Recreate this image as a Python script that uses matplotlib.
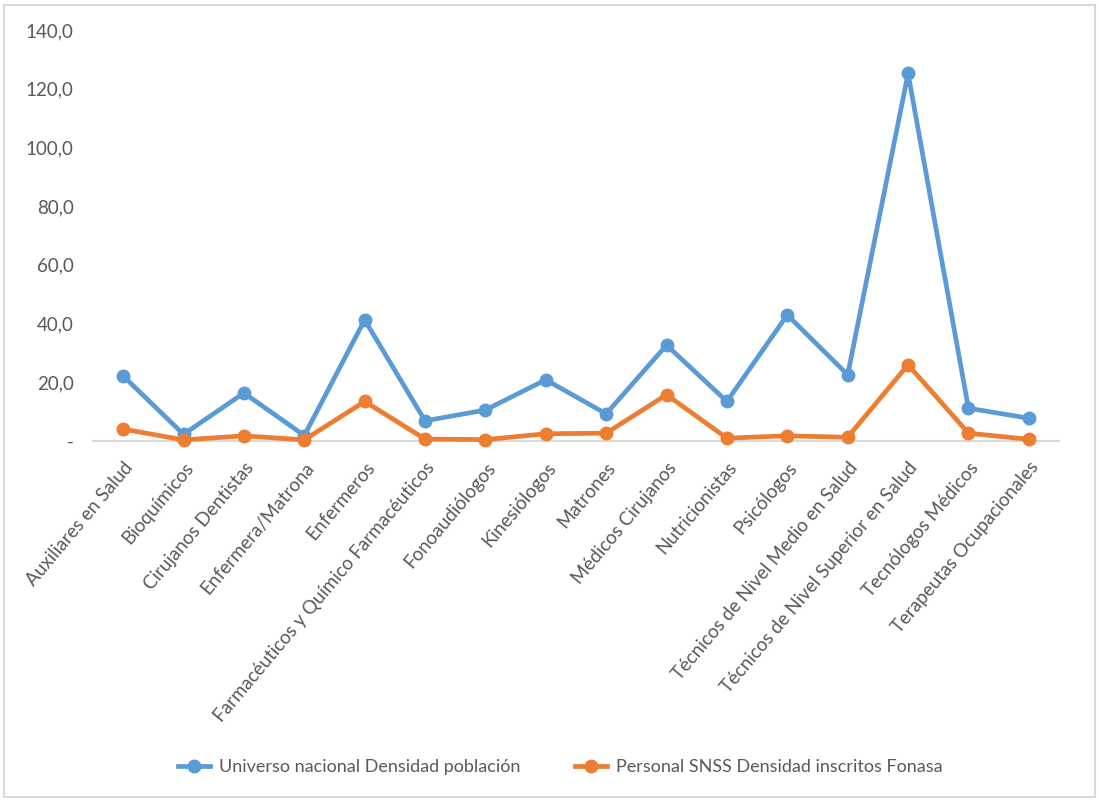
import matplotlib.pyplot as plt
from matplotlib.patches import Rectangle

categories = [
    'Auxiliares en Salud', 'Bioquímicos', 'Cirujanos Dentistas', 'Enfermera/Matrona',
    'Enfermeros', 'Farmacéuticos y Químico Farmacéuticos', 'Fonoaudiólogos',
    'Kinesiólogos', 'Matrones', 'Médicos Cirujanos', 'Nutricionistas', 'Psicólogos',
    'Técnicos de Nivel Medio en Salud', 'Técnicos de Nivel Superior en Salud',
    'Tecnólogos Médicos', 'Terapeutas Ocupacionales',
]
universo = [22.1, 2.2, 16.3, 1.8, 41.2, 6.8, 10.5, 20.8, 9.2, 32.6, 13.4, 42.9,
            22.5, 125.2, 11.1, 7.7]
personal = [4.0, 0.3, 1.7, 0.3, 13.4, 0.6, 0.4, 2.4, 2.6, 15.7, 0.9, 1.7,
            1.2, 25.9, 2.6, 0.5]
yticks = [0, 20, 40, 60, 80, 100, 120, 140]

plt.rcParams['font.family'] = ['Lato', 'DejaVu Sans']
text_color = '#595959'

fig = plt.figure(figsize=(10.99, 8.0), dpi=100)
ax = fig.add_axes([0.0846, 0.449, 0.879, 0.5135])

x = range(len(categories))
ax.plot(x, universo, color='#5B9BD5', lw=3.4, marker='o', ms=9,
        label='Universo nacional Densidad población')
ax.plot(x, personal, color='#ED7D31', lw=3.4, marker='o', ms=9,
        label='Personal SNSS Densidad inscritos Fonasa')

ax.set_xlim(-0.5, len(categories) - 0.5)
ax.set_ylim(0, 140)
ax.set_yticks(yticks)
ax.set_yticklabels(['-' if v == 0 else '{:.1f}'.format(v).replace('.', ',') for v in yticks])
ax.set_xticks(list(x))
ax.set_xticklabels(categories, rotation=50, ha='right', va='top', rotation_mode='anchor')
ax.tick_params(axis='both', length=0, labelsize=13.5, colors=text_color)
ax.tick_params(axis='y', pad=14)
ax.tick_params(axis='x', pad=13)

for s in ['top', 'right', 'left']:
    ax.spines[s].set_visible(False)
ax.spines['bottom'].set_color('#D9D9D9')
ax.spines['bottom'].set_linewidth(1.5)
ax.spines['bottom'].set_zorder(0)
for ln in ax.lines:
    ln.set_clip_on(False)

leg = fig.legend(loc='center', bbox_to_anchor=(0.51, 0.041), ncol=2, frameon=False,
                 fontsize=13, handlelength=1.8, columnspacing=3.0, handletextpad=0.5)
for t in leg.get_texts():
    t.set_color(text_color)

# light frame around the chart area
fig.patches.append(Rectangle((0.004, 0.004), 0.992, 0.99, transform=fig.transFigure,
                             fill=False, edgecolor='#D9D9D9', lw=1.5))

fig.savefig('out.png', dpi=100)
